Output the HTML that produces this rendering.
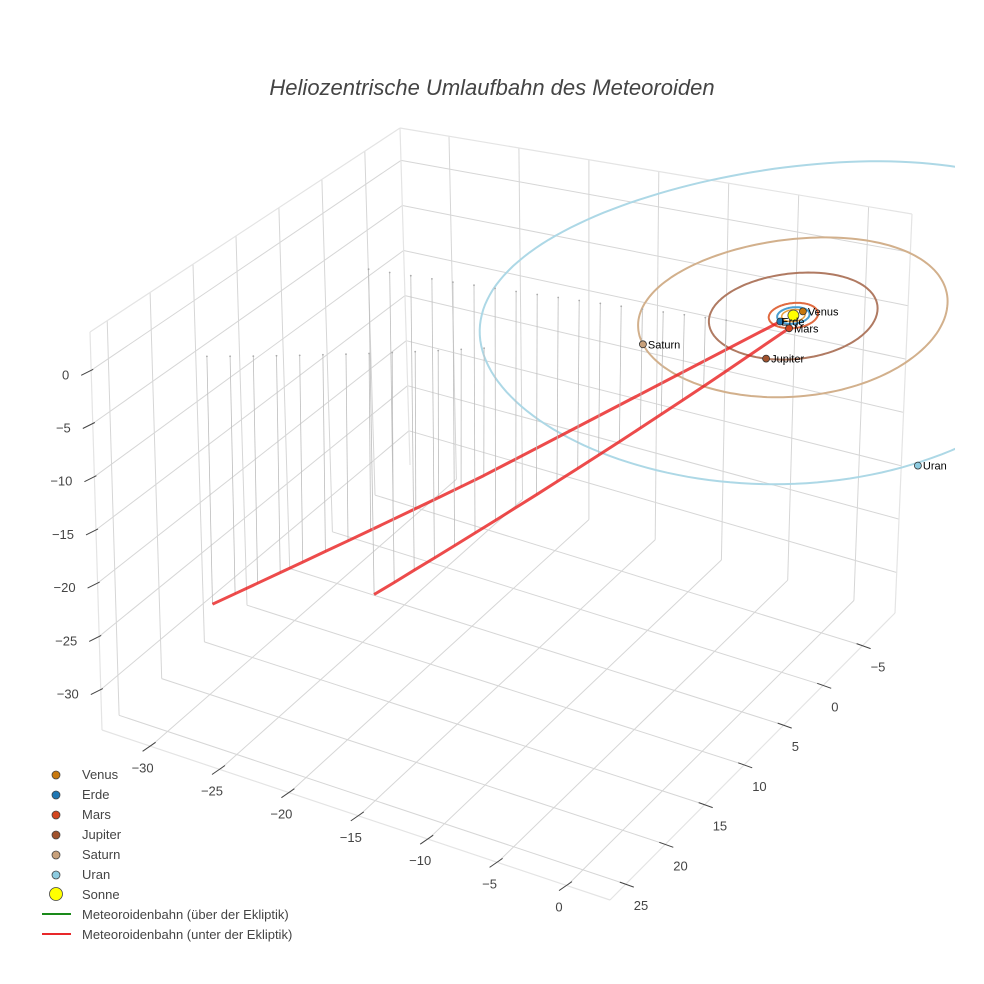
<!DOCTYPE html>
<html><head><meta charset="utf-8"><style>
html,body{margin:0;padding:0;background:#fff;}
svg{display:block;font-family:"Liberation Sans",sans-serif;}
</style></head><body>
<svg id="chart" width="984" height="984" viewBox="0 0 984 984" xmlns="http://www.w3.org/2000/svg">
<defs><clipPath id="sceneClip"><rect x="0" y="0" width="955" height="984"/></clipPath></defs>
<rect width="984" height="984" fill="#fff"/>
<text x="492" y="95" text-anchor="middle" font-size="22" font-style="italic" fill="#444">Heliozentrische Umlaufbahn des Meteoroiden</text>
<g id="grid"></g>
<g id="axes"></g>
<g id="marks" clip-path="url(#sceneClip)"></g>
<g id="legend" font-size="13" fill="#444">
  <g><circle cx="56" cy="775" r="4" fill="#c8780e" stroke="#444" stroke-width="0.8"/><text x="82" y="779">Venus</text></g>
  <g><circle cx="56" cy="795" r="4" fill="#1f77b4" stroke="#444" stroke-width="0.8"/><text x="82" y="799">Erde</text></g>
  <g><circle cx="56" cy="815" r="4" fill="#d2451e" stroke="#444" stroke-width="0.8"/><text x="82" y="819">Mars</text></g>
  <g><circle cx="56" cy="835" r="4" fill="#a0522d" stroke="#444" stroke-width="0.8"/><text x="82" y="839">Jupiter</text></g>
  <g><circle cx="56" cy="855" r="4" fill="#c8a07a" stroke="#444" stroke-width="0.8"/><text x="82" y="859">Saturn</text></g>
  <g><circle cx="56" cy="875" r="4" fill="#8ccbe0" stroke="#444" stroke-width="0.8"/><text x="82" y="879">Uran</text></g>
  <g><circle cx="56" cy="894" r="6.5" fill="#ffff00" stroke="#444" stroke-width="0.8"/><text x="82" y="899">Sonne</text></g>
  <g><line x1="42" y1="914" x2="71" y2="914" stroke="#1a8a1a" stroke-width="2"/><text x="82" y="919">Meteoroidenbahn (über der Ekliptik)</text></g>
  <g><line x1="42" y1="934" x2="71" y2="934" stroke="#e8282a" stroke-width="2"/><text x="82" y="939">Meteoroidenbahn (unter der Ekliptik)</text></g>
</g>
</svg>
<script>
const xTicks = [-30, -25, -20, -15, -10, -5, 0];
const yTicks = [-5, 0, 5, 10, 15, 20, 25];
const zTicks = [-30, -25, -20, -15, -10, -5, 0];
const planetNames = ["Venus", "Erde", "Mars", "Jupiter", "Saturn", "Uran"];
const orbitRadii = [0.72, 1.0, 1.52, 5.2, 9.54, 19.2];
const planetX = [0.3, -0.40, 0.52, 1.0, -6.8, 15.5];
const planetY = [-0.65, 0.92, 1.43, 5.1, 6.7, 11.8];
const planetZ = [0, 0, 0, 0, 0, 0];
const sunPos = [0, 0, 0];
const meteor1X = [-0.4, -15.22, -16.36, -17.5, -18.64, -19.78, -20.92, -22.06, -23.2, -24.34, -25.48, -26.62, -27.76, -28.9];
const meteor1Y = [0.92, 11.47, 12.28, 13.09, 13.90, 14.71, 15.52, 16.33, 17.14, 17.96, 18.77, 19.58, 20.39, 21.2];
const meteor1Z = [0, -12.38, -13.33, -14.28, -15.23, -16.18, -17.14, -18.09, -19.04, -19.99, -20.94, -21.90, -22.85, -23.8];
const meteor2X = [0.52, -3.58, -4.94, -6.31, -7.68, -9.04, -10.41, -11.77, -13.14, -14.51, -15.87, -17.24, -18.60, -19.97, -21.34, -22.70, -24.07, -25.43, -26.8];
const meteor2Y = [1.43, 2.07, 2.28, 2.50, 2.71, 2.92, 3.14, 3.35, 3.57, 3.78, 3.99, 4.21, 4.42, 4.63, 4.85, 5.06, 5.27, 5.49, 5.70];
const meteor2Z = [0, -4.95, -6.6, -8.25, -9.9, -11.55, -13.2, -14.85, -16.5, -18.15, -19.8, -21.45, -23.1, -24.75, -26.4, -28.05, -29.7, -31.35, -33.0];

const NS = "http://www.w3.org/2000/svg";
const X0 = -33.5, X1 = 3.1, Y0 = -9.1, Y1 = 27, Z0 = -33.8, Z1 = 3.6;
const C = [[[[410,465],[400,128]],[[102,730],[90,332]]],[[[895,613],[912,214]],[[610,900],[620,502]]]];
function lerp(a,b,t){return [a[0]+(b[0]-a[0])*t, a[1]+(b[1]-a[1])*t];}
function proj(x,y,z){
  const u=(x-X0)/(X1-X0), v=(y-Y0)/(Y1-Y0), w=(z-Z0)/(Z1-Z0);
  const a=lerp(lerp(C[0][0][0],C[0][0][1],w), lerp(C[0][1][0],C[0][1][1],w), v);
  const b=lerp(lerp(C[1][0][0],C[1][0][1],w), lerp(C[1][1][0],C[1][1][1],w), v);
  return lerp(a,b,u);
}
function mk(tag, attrs, parent){const e=document.createElementNS(NS,tag);for(const k in attrs)e.setAttribute(k,attrs[k]);parent.appendChild(e);return e;}
const grid=document.getElementById('grid'), axes=document.getElementById('axes'), marks=document.getElementById('marks');
function seg(p,q,stroke,w,parent,name){const l=mk('line',{x1:p[0].toFixed(1),y1:p[1].toFixed(1),x2:q[0].toFixed(1),y2:q[1].toFixed(1),stroke:stroke,'stroke-width':w},parent);


return l;}
const GC="#d6d6d6";
xTicks.forEach(x=>seg(proj(x,Y0,Z0),proj(x,Y1,Z0),GC,1,grid,'floor-grid-x'));
yTicks.forEach(y=>seg(proj(X0,y,Z0),proj(X1,y,Z0),GC,1,grid,'floor-grid-y'));
yTicks.forEach(y=>seg(proj(X0,y,Z0),proj(X0,y,Z1),GC,1,grid,'left-wall-grid-y'));
zTicks.forEach(z=>seg(proj(X0,Y0,z),proj(X0,Y1,z),GC,1,grid,'left-wall-grid-z'));
xTicks.forEach(x=>seg(proj(x,Y0,Z0),proj(x,Y0,Z1),GC,1,grid,'back-wall-grid-x'));
zTicks.forEach(z=>seg(proj(X0,Y0,z),proj(X1,Y0,z),GC,1,grid,'back-wall-grid-z'));
const EC="#e4e4e4";
[[[X0,Y1,Z0],[X1,Y1,Z0]],[[X1,Y1,Z0],[X1,Y0,Z0]],[[X0,Y1,Z0],[X0,Y1,Z1]],[[X1,Y0,Z0],[X1,Y0,Z1]],[[X0,Y1,Z1],[X0,Y0,Z1]],[[X0,Y0,Z1],[X1,Y0,Z1]],[[X0,Y0,Z0],[X0,Y0,Z1]]].forEach(e=>seg(proj(...e[0]),proj(...e[1]),EC,1.2,grid,'box-edge'));
function label(txt,x,y,anchor,name){const t=mk('text',{x:x.toFixed(1),y:y.toFixed(1),'text-anchor':anchor,'font-size':13,fill:'#444'},axes);t.textContent=txt;

}
function fmt(v){return v<0?'\u2212'+Math.abs(v):String(v);}
xTicks.forEach(x=>{const p=proj(x,Y1,Z0);seg([p[0]-8,p[1]+5],[p[0]+5,p[1]-4],'#444',1,axes,'x-tick');label(fmt(x),p[0]-8,p[1]+26,'middle','x-tick-label');});
yTicks.forEach(y=>{const p=proj(X1,y,Z0);seg([p[0]-6,p[1]-2],[p[0]+8,p[1]+3],'#444',1,axes,'y-tick');label(fmt(y),p[0]+8,p[1]+26,'start','y-tick-label');});
zTicks.forEach(z=>{const p=proj(X0,Y1,z);seg([p[0]-10,p[1]+5],[p[0]+2,p[1]-1],'#444',1,axes,'z-tick');label(fmt(z),p[0]-22,p[1]+9,'end','z-tick-label');});
const orbitColors=["#e8a040","#4a9ed0","#e06a40","#b07a62","#d2b08c","#add8e6"];
const orbitWidths=[1.5,2,2,2,2,2];
orbitRadii.forEach((r,i)=>{let d='';for(let a=0;a<=360;a+=2){const t=a*Math.PI/180;const p=proj(r*Math.cos(t),r*Math.sin(t),0);d+=(a?'L':'M')+p[0].toFixed(1)+','+p[1].toFixed(1);}
const pa=mk('path',{d:d,fill:'none',stroke:orbitColors[i],'stroke-width':orbitWidths[i]},marks);

});
function meteor(X,Y,Z,name){
  for(let i=1;i<X.length;i++){const p=proj(X[i],Y[i],Z[i]), q=proj(X[i],Y[i],0);seg(p,q,'#bdbdbd',0.8,marks,name+'-stem');
    const c=mk('circle',{cx:q[0].toFixed(1),cy:q[1].toFixed(1),r:0.9,fill:'#aaa'},marks);
    
    }
  let d='';for(let i=0;i<X.length;i++){const p=proj(X[i],Y[i],Z[i]);d+=(i?'L':'M')+p[0].toFixed(1)+','+p[1].toFixed(1);}
  const pa=mk('path',{d:d,fill:'none',stroke:'rgba(232,30,30,0.8)','stroke-width':3,'stroke-linejoin':'round'},marks);
  
  
}
meteor(meteor1X,meteor1Y,meteor1Z,'meteor-path-1');
meteor(meteor2X,meteor2Y,meteor2Z,'meteor-path-2');
const sp=proj(...sunPos);
const sun=mk('circle',{cx:sp[0].toFixed(1),cy:sp[1].toFixed(1),r:5.5,fill:'#ffff00',stroke:'#444','stroke-width':0.8},marks);


const planetColors=["#c8780e","#1f77b4","#d2451e","#a0522d","#c8a07a","#8ccbe0"];
planetNames.forEach((n,i)=>{const p=proj(planetX[i],planetY[i],planetZ[i]);
  const c=mk('circle',{cx:p[0].toFixed(1),cy:p[1].toFixed(1),r:3.5,fill:planetColors[i],stroke:'#333','stroke-width':0.8},marks);
  
  
  const t=mk('text',{x:(p[0]+(i==1?1:5)).toFixed(1),y:(p[1]+4).toFixed(1),'font-size':11,fill:'#000'},marks);t.textContent=n;
  
  });
</script>
</body></html>
